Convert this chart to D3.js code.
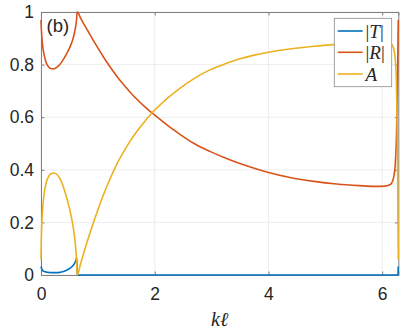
<!DOCTYPE html>
<html><head><meta charset="utf-8">
<script src="https://cdn.jsdelivr.net/npm/d3@7"></script>
<style>
html,body{margin:0;padding:0;background:#fff;}
svg{display:block;}
</style></head>
<body>
<svg id="chart" width="407" height="334"></svg>
<script>
// ---- data ----
const kl = [0, 0.003, 0.008, 0.015, 0.025, 0.04, 0.06, 0.09, 0.13, 0.18, 0.23, 0.28, 0.33, 0.38, 0.44, 0.49, 0.53, 0.56, 0.59, 0.61, 0.62, 0.628, 0.636,
  0.64, 0.69, 0.744, 0.8, 0.861, 0.92, 0.978, 1.095, 1.213, 1.33, 1.447, 1.564, 1.681, 1.828, 1.945, 2.121, 2.267, 2.443, 2.677, 2.97, 3.263, 3.497, 3.75, 4.0, 4.4, 4.8, 5.2, 5.6, 5.9, 6.05, 6.15, 6.2, 6.23, 6.25, 6.265, 6.275, 6.28, 6.2832];
const Tabs = [0.032, 0.03, 0.027, 0.023, 0.019, 0.015, 0.013, 0.011, 0.01, 0.009, 0.009, 0.009, 0.01, 0.012, 0.017, 0.023, 0.029, 0.035, 0.044, 0.053, 0.06, 0.066, 0.0,
  0, 0, 0, 0, 0, 0, 0, 0, 0, 0, 0, 0, 0, 0, 0, 0, 0, 0, 0, 0, 0, 0, 0, 0, 0, 0, 0, 0, 0, 0, 0, 0, 0, 0, 0, 0, 0.012, 0.032];
const Rabs = [0.97, 0.95, 0.93, 0.905, 0.88, 0.855, 0.832, 0.808, 0.792, 0.784, 0.784, 0.79, 0.80, 0.815, 0.837, 0.858, 0.878, 0.896, 0.922, 0.945, 0.962, 0.978, 1.0,
  1.0, 0.98, 0.958, 0.937, 0.914, 0.892, 0.871, 0.83, 0.792, 0.757, 0.725, 0.696, 0.669, 0.639, 0.617, 0.587, 0.562, 0.535, 0.502, 0.47, 0.443, 0.424, 0.406, 0.39, 0.37, 0.356, 0.346, 0.34, 0.337, 0.338, 0.345, 0.37, 0.42, 0.52, 0.68, 0.84, 0.93, 0.97];
const Aval = [0.06, 0.11, 0.155, 0.2, 0.24, 0.28, 0.315, 0.35, 0.373, 0.386, 0.388, 0.382, 0.367, 0.343, 0.302, 0.262, 0.225, 0.19, 0.145, 0.103, 0.075, 0.045, 0.0,
  0, 0.038, 0.078, 0.118, 0.16, 0.198, 0.234, 0.303, 0.365, 0.42, 0.466, 0.508, 0.545, 0.585, 0.615, 0.652, 0.68, 0.71, 0.745, 0.78, 0.805, 0.822, 0.836, 0.847, 0.86, 0.87, 0.877, 0.882, 0.885, 0.885, 0.88, 0.862, 0.82, 0.73, 0.54, 0.29, 0.13, 0.06];
const xTicks = [0, 2, 4, 6];
const yTicks = [0, 0.2, 0.4, 0.6, 0.8, 1];
const seriesNames = ["T", "R", "A"];
const seriesColors = ["#0072BD", "#D95319", "#EDB120"];

// ---- layout ----
const svg = d3.select("#chart");
const L = 41, R = 398.3, Tp = 12, B = 275;
const x = d3.scaleLinear().domain([0, 2 * Math.PI]).range([L, R]);
const y = d3.scaleLinear().domain([0, 1]).range([B, Tp]);
const font = "'Liberation Sans', Arial, Helvetica, sans-serif";
const serif = "'Liberation Serif', 'DejaVu Serif', serif";

// grid
const grid = svg.append("g");
grid.selectAll("line.gx").data(xTicks).enter().append("line")
  .attr("x1", d => x(d)).attr("x2", d => x(d)).attr("y1", Tp).attr("y2", B)
  .attr("stroke", "#e8e8e8").attr("stroke-width", 0.8);
grid.selectAll("line.gy").data(yTicks).enter().append("line")
  .attr("x1", L).attr("x2", R).attr("y1", d => y(d)).attr("y2", d => y(d))
  .attr("stroke", "#e8e8e8").attr("stroke-width", 0.8);

// axes (box with inward ticks)
const axCol = "#808080";
const xAxisB = d3.axisBottom(x).tickValues(xTicks).tickSize(-3.5).tickPadding(13).tickFormat(d3.format("d"));
const xAxisT = d3.axisTop(x).tickValues(xTicks).tickSize(-3.5).tickFormat("");
const yAxisL = d3.axisLeft(y).tickValues(yTicks).tickSize(-3.5).tickPadding(7).tickFormat(d => d === 0 || d === 1 ? d3.format("d")(d) : d3.format(".1f")(d));
const yAxisR = d3.axisRight(y).tickValues(yTicks).tickSize(-3.5).tickFormat("");
function style(g) {
  g.select(".domain").attr("stroke", axCol).attr("stroke-width", 1);
  g.selectAll(".tick line").attr("stroke", axCol);
  g.selectAll(".tick text").attr("fill", "#262626").style("font-family", font).style("font-size", "17.5px");
}
svg.append("g").attr("transform", `translate(0,${B})`).call(xAxisB).call(style);
svg.append("g").attr("transform", `translate(0,${Tp})`).call(xAxisT).call(style);
svg.append("g").attr("transform", `translate(${L},0)`).call(yAxisL).call(style);
svg.append("g").attr("transform", `translate(${R},0)`).call(yAxisR).call(style);

// lines
const data = [Tabs, Rabs, Aval];
data.forEach((vals, i) => {
  const pts = kl.map((k, j) => [k, vals[j]]);
  svg.append("path").datum(pts)
    .attr("fill", "none").attr("stroke", seriesColors[i]).attr("stroke-width", 1.6)
    .attr("stroke-linejoin", "round")
    .attr("d", d3.line().curve(d3.curveMonotoneX).x(d => x(d[0])).y(d => y(d[1])));
});

// panel label
svg.append("text").attr("x", 46.5).attr("y", 31.5).text("(b)")
  .style("font-family", font).style("font-size", "18.5px").attr("fill", "#262626");

// x label
const xl = svg.append("text").attr("x", (L + R) / 2).attr("y", 326).attr("text-anchor", "middle")
  .style("font-family", serif).style("font-size", "20px").style("font-style", "italic").attr("fill", "#262626");
xl.append("tspan").text("k");
xl.append("tspan").text("ℓ");

// legend
const lg = svg.append("g");
lg.append("rect").attr("x", 334.3).attr("y", 18.3).attr("width", 57.4).attr("height", 68.4)
  .attr("fill", "#fff").attr("stroke", "#8c8c8c").attr("stroke-width", 0.8);
const rowY = [31, 52.3, 74];
seriesNames.forEach((n, i) => {
  lg.append("line").attr("x1", 337.7).attr("x2", 362.7).attr("y1", rowY[i]).attr("y2", rowY[i])
    .attr("stroke", seriesColors[i]).attr("stroke-width", 1.6);
  const t = lg.append("text").attr("x", 365.5).attr("y", rowY[i] + 6.5)
    .style("font-family", serif).style("font-size", "19px").attr("fill", "#262626");
  if (n === "A") {
    t.append("tspan").style("font-style", "italic").text("A");
  } else {
    t.append("tspan").text("|");
    t.append("tspan").style("font-style", "italic").text(n);
    t.append("tspan").text("|");
  }
});
</script>
</body></html>
